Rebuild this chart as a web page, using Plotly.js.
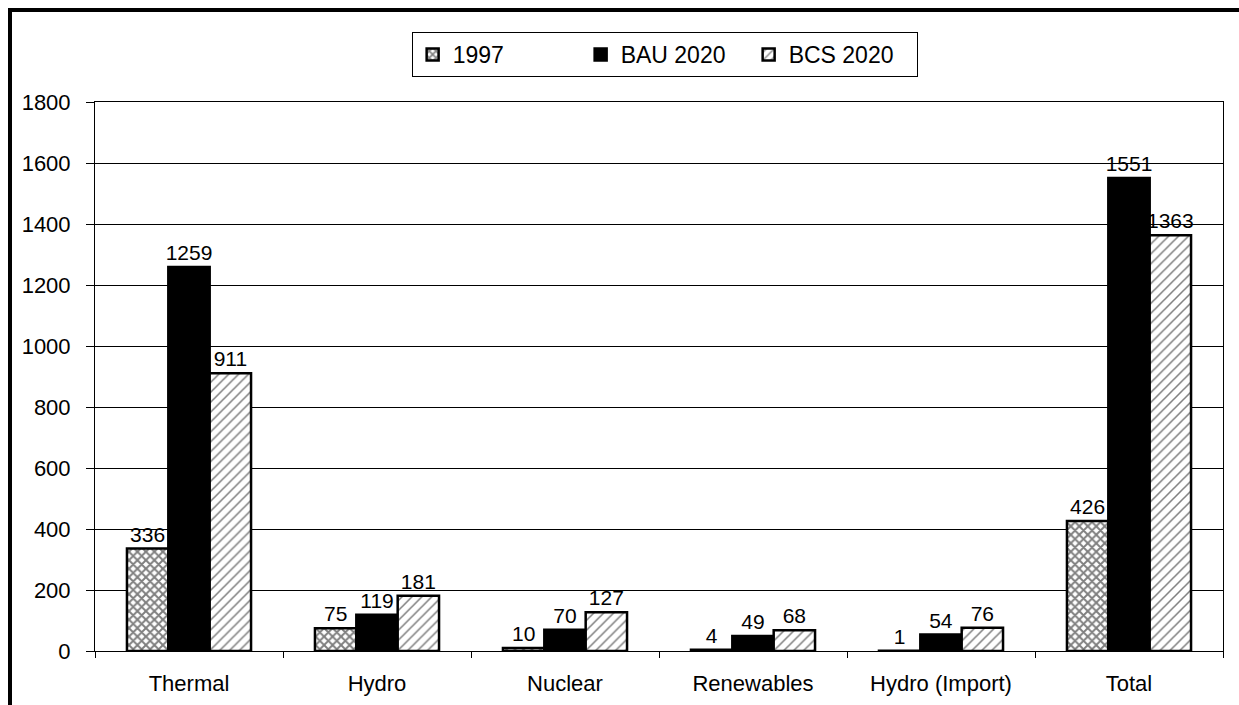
<!DOCTYPE html>
<html>
<head>
<meta charset="utf-8">
<script src="https://cdn.plot.ly/plotly-3.0.1.min.js"></script>
<style>
  html, body { margin: 0; padding: 0; background: #fff; }
  #wrap { position: relative; width: 1239px; height: 705px; }
  #chart { width: 1239px; height: 705px; }
  #frame { position: absolute; left: 8px; top: 8px; width: 1231px; height: 697px;
           border-top: 4px solid #000; border-left: 4px solid #000; pointer-events: none; box-sizing: border-box; }
</style>
</head>
<body>
<div id="wrap">
  <div id="chart"></div>
  <div id="frame"></div>
</div>
<script>
const categories = ["Thermal", "Hydro", "Nuclear", "Renewables", "Hydro (Import)", "Total"];
const seriesNames = ["1997", "BAU 2020", "BCS 2020"];
const values1997 = [336, 75, 10, 4, 1, 426];
const valuesBAU = [1259, 119, 70, 49, 54, 1551];
const valuesBCS = [911, 181, 127, 68, 76, 1363];

const family = "Liberation Sans, Arial, sans-serif";
const font = {family: family, size: 21, color: "#000"};
const tickFont = {family: family, size: 22, color: "#000"};
const legendFont = {family: family, size: 23, color: "#000"};

function bar(name, vals, pattern, color) {
  return {
    type: "bar",
    name: name,
    x: categories,
    y: vals,
    text: vals.map(String),
    textposition: "outside",
    textfont: font,
    constraintext: "none",
    cliponaxis: false,
    marker: {
      color: color,
      line: {color: "#000", width: 2.5},
      pattern: pattern
    }
  };
}

const data = [
  bar(seriesNames[0], values1997, {shape: "x", fgcolor: "#000", bgcolor: "#fff", size: 6, solidity: 0.55, fillmode: "overlay"}, "#fff"),
  bar(seriesNames[1], valuesBAU, {shape: ""}, "#000"),
  bar(seriesNames[2], valuesBCS, {shape: "/", fgcolor: "#000", bgcolor: "#fff", size: 7, solidity: 0.22, fillmode: "overlay"}, "#fff")
];

const layout = {
  width: 1239, height: 705,
  margin: {l: 95, r: 16, t: 102, b: 54},
  paper_bgcolor: "#fff", plot_bgcolor: "#fff",
  font: font,
  barmode: "group",
  bargap: 0.34,
  bargroupgap: 0,
  showlegend: true,
  legend: {
    orientation: "h",
    x: 0.505, xanchor: "center",
    y: 1.1275, yanchor: "top",
    bordercolor: "#000", borderwidth: 1,
    bgcolor: "#fff",
    font: legendFont,
    itemwidth: 30,
    entrywidth: 123,
    traceorder: "normal"
  },
  xaxis: {
    type: "category",
    showline: true, linecolor: "#000", linewidth: 1, mirror: true,
    ticks: "outside", ticklen: 6, tickcolor: "#000", tickson: "boundaries",
    showgrid: false,
    tickfont: tickFont,
    ticklabelstandoff: 13,
    fixedrange: true
  },
  yaxis: {
    range: [0, 1800], dtick: 200,
    showline: true, linecolor: "#000", linewidth: 1, mirror: true,
    ticks: "outside", ticklen: 8, tickcolor: "#000",
    showgrid: true, gridcolor: "#000", gridwidth: 1,
    zeroline: true, zerolinecolor: "#000",
    tickfont: tickFont,
    ticklabelstandoff: 11,
    fixedrange: true
  }
};

Plotly.newPlot("chart", data, layout, {displayModeBar: false, staticPlot: true});
</script>
</body>
</html>
